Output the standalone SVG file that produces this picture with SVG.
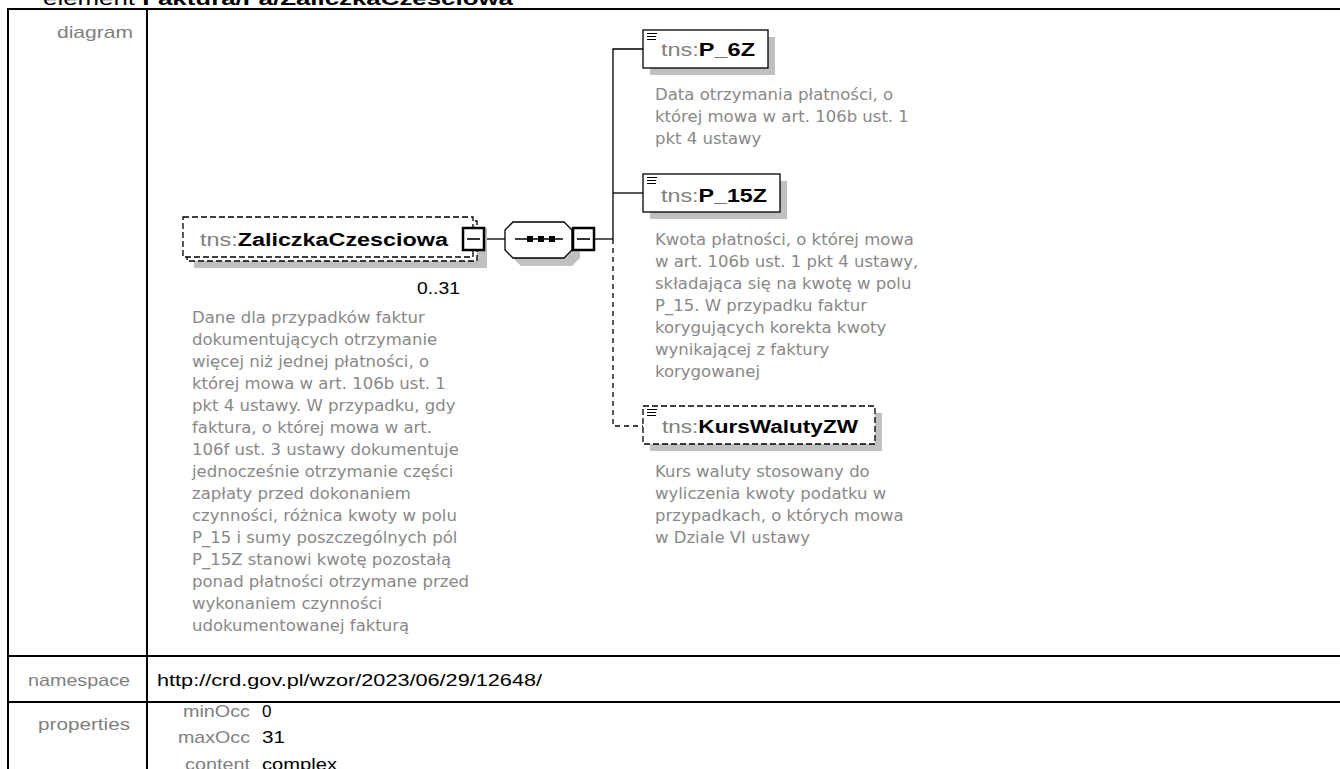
<svg xmlns="http://www.w3.org/2000/svg" width="1340" height="769" viewBox="0 0 1340 769">
<style>
.grid{stroke:#000;stroke-width:2;fill:none}
.lbl{font-family:"Liberation Sans",Arial,sans-serif;font-size:17px;fill:#808080}
.val{font-family:"Liberation Sans",Arial,sans-serif;font-size:17px;fill:#000}
.ttl{font-family:"Liberation Sans",Arial,sans-serif;font-size:18px}
.pfx{fill:#808080;font-weight:normal}
.nm{fill:#000;font-weight:bold}
.desc{font-family:"DejaVu Sans",Verdana,sans-serif;font-size:16.5px;fill:#888}
.box{fill:#fff;stroke:#000;stroke-width:1.3}
.dbox{fill:#fff;stroke:#000;stroke-width:1.3;stroke-dasharray:6 3}
.shadow{fill:#c0c0c0}
.conn{stroke:#000;stroke-width:1.3;fill:none}
.dconn{stroke:#000;stroke-width:1.3;fill:none;stroke-dasharray:5 4}
.tog{fill:#fff;stroke:#000;stroke-width:2.5}
.minus{stroke:#000;stroke-width:1.6}
.icon{stroke:#000;stroke-width:1.2}
</style>
<rect x="0" y="0" width="1340" height="769" fill="#fff"/>
<text x="43" y="5" class="val" style="font-size:19px" textLength="470" lengthAdjust="spacingAndGlyphs">element <tspan font-weight="bold">Faktura/Fa/ZaliczkaCzesciowa</tspan></text>
<g id="table">
<line class="grid" x1="7" y1="9" x2="1340" y2="9"/>
<line class="grid" x1="8" y1="8" x2="8" y2="769"/>
<line class="grid" x1="147" y1="9" x2="147" y2="769"/>
<line class="grid" x1="7" y1="656" x2="1340" y2="656"/>
<line class="grid" x1="7" y1="702" x2="1340" y2="702"/>
<text class="lbl" x="57" y="38" textLength="76" lengthAdjust="spacingAndGlyphs">diagram</text>
<text class="lbl" x="28" y="686" textLength="102" lengthAdjust="spacingAndGlyphs">namespace</text>
<text class="val" x="157" y="686" textLength="385" lengthAdjust="spacingAndGlyphs">http://crd.gov.pl/wzor/2023/06/29/12648/</text>
<text class="lbl" x="38" y="730" textLength="92" lengthAdjust="spacingAndGlyphs">properties</text>
<text class="lbl" x="183" y="717" textLength="67" lengthAdjust="spacingAndGlyphs">minOcc</text>
<text class="lbl" x="178" y="743" textLength="72" lengthAdjust="spacingAndGlyphs">maxOcc</text>
<text class="lbl" x="185" y="770" textLength="65" lengthAdjust="spacingAndGlyphs">content</text>
<text class="val" x="262" y="717">0</text>
<text class="val" x="262" y="743" textLength="23" lengthAdjust="spacingAndGlyphs">31</text>
<text class="val" x="262" y="770" textLength="75" lengthAdjust="spacingAndGlyphs">complex</text>
</g>
<g id="connectors">
<line class="conn" x1="485" y1="239" x2="505" y2="239"/>
<line class="conn" x1="594" y1="239" x2="613" y2="239"/>
<polyline class="conn" points="643,49 613,49 613,239"/>
<line class="conn" x1="613" y1="193" x2="643" y2="193"/>
<polyline class="dconn" points="613,239 613,426 643,426"/>
</g>
<g id="node-ZaliczkaCzesciowa">
<rect class="shadow" x="194" y="228" width="293" height="40"/>
<rect class="dbox" x="187" y="221" width="290" height="40"/>
<rect class="dbox" x="183" y="217" width="290" height="40"/>
<text class="ttl" x="200" y="245.5" textLength="248" lengthAdjust="spacingAndGlyphs"><tspan class="pfx">tns:</tspan><tspan class="nm">ZaliczkaCzesciowa</tspan></text>
<rect class="tog" x="463" y="228" width="21" height="22"/>
<line class="minus" x1="467" y1="239" x2="480" y2="239"/>
<text class="val" x="417" y="294" textLength="43" lengthAdjust="spacingAndGlyphs">0..31</text>
<text class="desc" x="192" y="323"><tspan x="192">Dane dla przypadków faktur</tspan><tspan x="192" dy="22">dokumentujących otrzymanie</tspan><tspan x="192" dy="22">więcej niż jednej płatności, o</tspan><tspan x="192" dy="22">której mowa w art. 106b ust. 1</tspan><tspan x="192" dy="22">pkt 4 ustawy. W przypadku, gdy</tspan><tspan x="192" dy="22">faktura, o której mowa w art.</tspan><tspan x="192" dy="22">106f ust. 3 ustawy dokumentuje</tspan><tspan x="192" dy="22">jednocześnie otrzymanie części</tspan><tspan x="192" dy="22">zapłaty przed dokonaniem</tspan><tspan x="192" dy="22">czynności, różnica kwoty w polu</tspan><tspan x="192" dy="22">P_15 i sumy poszczególnych pól</tspan><tspan x="192" dy="22">P_15Z stanowi kwotę pozostałą</tspan><tspan x="192" dy="22">ponad płatności otrzymane przed</tspan><tspan x="192" dy="22">wykonaniem czynności</tspan><tspan x="192" dy="22">udokumentowanej fakturą</tspan></text>
</g>
<g id="node-sequence">
<polygon class="shadow" points="521,230 572,230 580,238 580,258 572,266 521,266 513,258 513,238"/>
<polygon class="box" points="513,222 564,222 572,230 572,250 564,258 513,258 505,250 505,230"/>
<line class="conn" x1="515" y1="239" x2="563" y2="239"/>
<rect x="527" y="236" width="6" height="6" fill="#000"/>
<rect x="538" y="236" width="6" height="6" fill="#000"/>
<rect x="549" y="236" width="6" height="6" fill="#000"/>
<rect class="tog" x="573" y="228" width="21" height="22"/>
<line class="minus" x1="577" y1="239" x2="590" y2="239"/>
</g>
<g id="node-P_6Z">
<rect class="shadow" x="650" y="37" width="125" height="38"/>
<rect class="box" x="643" y="30" width="125" height="38"/>
<path class="icon" d="M647,33.5h10M647,36.5h9M647,39.5h9"/>
<text class="ttl" x="661" y="56" textLength="94" lengthAdjust="spacingAndGlyphs"><tspan class="pfx">tns:</tspan><tspan class="nm">P_6Z</tspan></text>
<text class="desc" x="655" y="100"><tspan x="655">Data otrzymania płatności, o</tspan><tspan x="655" dy="22">której mowa w art. 106b ust. 1</tspan><tspan x="655" dy="22">pkt 4 ustawy</tspan></text>
</g>
<g id="node-P_15Z">
<rect class="shadow" x="650" y="181" width="137" height="38"/>
<rect class="box" x="643" y="174" width="137" height="38"/>
<path class="icon" d="M647,177.5h10M647,180.5h9M647,183.5h9"/>
<text class="ttl" x="661" y="202" textLength="106" lengthAdjust="spacingAndGlyphs"><tspan class="pfx">tns:</tspan><tspan class="nm">P_15Z</tspan></text>
<text class="desc" x="655" y="245"><tspan x="655">Kwota płatności, o której mowa</tspan><tspan x="655" dy="22">w art. 106b ust. 1 pkt 4 ustawy,</tspan><tspan x="655" dy="22">składająca się na kwotę w polu</tspan><tspan x="655" dy="22">P_15. W przypadku faktur</tspan><tspan x="655" dy="22">korygujących korekta kwoty</tspan><tspan x="655" dy="22">wynikającej z faktury</tspan><tspan x="655" dy="22">korygowanej</tspan></text>
</g>
<g id="node-KursWalutyZW">
<rect class="shadow" x="650" y="413" width="232" height="38"/>
<rect class="dbox" x="643" y="406" width="232" height="38"/>
<path class="icon" d="M647,409.5h10M647,412.5h9M647,415.5h9"/>
<text class="ttl" x="662" y="433" textLength="196" lengthAdjust="spacingAndGlyphs"><tspan class="pfx">tns:</tspan><tspan class="nm">KursWalutyZW</tspan></text>
<text class="desc" x="655" y="477"><tspan x="655">Kurs waluty stosowany do</tspan><tspan x="655" dy="22">wyliczenia kwoty podatku w</tspan><tspan x="655" dy="22">przypadkach, o których mowa</tspan><tspan x="655" dy="22">w Dziale VI ustawy</tspan></text>
</g>
</svg>
